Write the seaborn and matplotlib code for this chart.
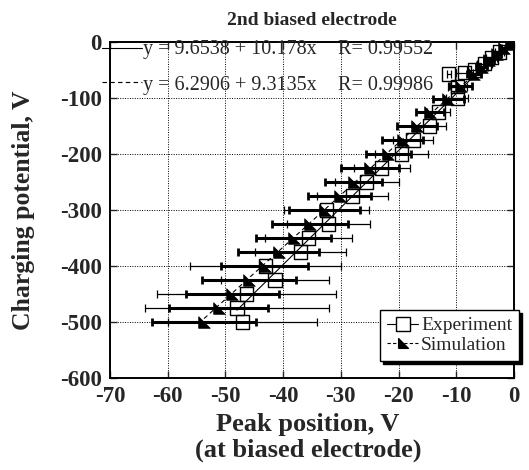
import numpy as np
import matplotlib
matplotlib.use("Agg")
import matplotlib.pyplot as plt
from matplotlib.lines import Line2D
import seaborn as sns

# experiment (open squares, thin error bars)
exp_peak = [-47.0, -48.0, -46.4, -41.4, -43.0, -37.0, -35.6, -32.2, -32.5, -28.0, -25.5, -22.9,
            -19.5, -17.5, -14.6, -13.1, -9.8, -9.8, -11.3, -8.6, -6.8, -5.1, -3.9, -2.5]
exp_charge = [-500, -475, -450, -425, -400, -375, -350, -325, -300, -275, -250, -225,
              -200, -175, -150, -125, -100, -80, -57, -55, -50, -39, -28, -18]
exp_err = [12.9, 15.9, 15.5, 9.3, 13.1, 7.9, 7.5, 7.2, 7.4, 6.1, 5.5, 4.9,
           4.6, 3.5, 2.9, 2.0, 1.9, 1.6, 0.3, 1.5, 1.3, 1.3, 1.0, 0.8]

# simulation (filled triangles, thick error bars)
sim_peak = [-53.7, -51.2, -48.8, -45.9, -43.2, -40.8, -38.2, -35.4, -32.8, -30.2, -27.8, -25.0,
            -21.8, -19.3, -16.8, -14.6, -11.4, -9.2, -7.0, -5.6, -4.3, -3.0, -1.8, -0.6]
sim_charge = [-500, -475, -450, -425, -400, -375, -350, -325, -300, -275, -250, -225,
              -200, -175, -150, -125, -101, -78, -58, -45, -33, -21, -11, -3]
sim_err = [9.0, 8.6, 8.0, 8.1, 7.5, 7.0, 6.5, 6.6, 6.1, 5.5, 5.0, 5.0,
           3.9, 3.5, 3.4, 2.4, 2.7, 2.0, 1.2, 1.0, 0.9, 0.7, 0.5, 0.3]

# linear fits shown on the chart
exp_fit = (9.6538, 10.178, 0.99552)
sim_fit = (6.2906, 9.3135, 0.99986)

sns.set_style("ticks")
plt.rcParams["font.family"] = ["Liberation Serif", "DejaVu Serif"]
plt.rcParams["axes.unicode_minus"] = False

tri = [(-1, -1), (1, -1), (-1, 1), (-1, -1)]

fig = plt.figure(figsize=(5.29, 4.70), dpi=100)
ax = fig.add_axes([110 / 529, 1 - 378 / 470, 404 / 529, 336 / 470])

ax.errorbar(exp_peak, exp_charge, xerr=exp_err, fmt="none", ecolor="black",
            elinewidth=0.9, capsize=3, capthick=0.9, zorder=3)
ax.errorbar(sim_peak, sim_charge, xerr=sim_err, fmt="none", ecolor="black",
            elinewidth=2.2, capsize=3, capthick=2, zorder=3)

xe = np.array([min(exp_peak), max(exp_peak)])
xs = np.array([min(sim_peak), max(sim_peak)])
sns.lineplot(x=xe, y=exp_fit[0] + exp_fit[1] * xe, color="black", lw=0.8, ax=ax, zorder=4)
sns.lineplot(x=xs, y=sim_fit[0] + sim_fit[1] * xs, color="black", lw=0.8,
             dashes=False, linestyle=(0, (4, 3)), ax=ax, zorder=4)

sns.scatterplot(x=sim_peak, y=sim_charge, marker=tri, s=70, color="black",
                edgecolor="black", linewidth=0.5, ax=ax, zorder=5)
sns.scatterplot(x=exp_peak, y=exp_charge, marker="s", s=90, facecolor="none",
                edgecolor="black", linewidth=1.0, ax=ax, zorder=6)

ax.set_xlim(-70, 0)
ax.set_ylim(-600, 0)
ax.set_xticks(np.arange(-70, 1, 10))
ax.set_yticks(np.arange(-600, 1, 100))
ax.grid(True, linestyle=(0, (1, 1.5)), color="black", linewidth=0.7)
ax.tick_params(direction="in", length=5, width=1, top=True, right=True,
               labelsize=16.5, pad=6)
for lab in ax.get_xticklabels() + ax.get_yticklabels():
    lab.set_fontweight("bold")
for s in ax.spines.values():
    s.set_linewidth(1.4)
    s.set_color("black")

ax.set_title("2nd biased electrode", fontsize=14, fontweight="bold", pad=12)
ax.set_xlabel("Peak position, V\n(at biased electrode)", fontsize=19,
              fontweight="bold", linespacing=1.15)
ax.xaxis.set_label_coords(0.49, -0.105)
ax.xaxis.label.set_va("top")
ax.set_ylabel("Charging potential, V", fontsize=18.5, fontweight="bold")
ax.yaxis.set_label_coords(-0.185, 0.5)

# fit equations with their line keys
ax.plot([-0.021, 0.079], [0.981, 0.981], color="black", lw=0.8,
        transform=ax.transAxes, clip_on=False)
ax.plot([-0.021, 0.079], [0.882, 0.882], color="black", lw=0.8,
        linestyle=(0, (4, 3)), transform=ax.transAxes, clip_on=False)
ax.text(0.082, 0.979, f"y = {exp_fit[0]} + {exp_fit[1]}x", fontsize=14.5,
        va="center", transform=ax.transAxes)
ax.text(0.564, 0.979, f"R= {exp_fit[2]}", fontsize=14.5, va="center", transform=ax.transAxes)
ax.text(0.082, 0.872, f"y = {sim_fit[0]} + {sim_fit[1]}x", fontsize=14.5,
        va="center", transform=ax.transAxes)
ax.text(0.564, 0.872, f"R= {sim_fit[2]}", fontsize=14.5, va="center", transform=ax.transAxes)

handles = [
    Line2D([], [], color="black", lw=0.8, marker="s", markersize=9.5,
           markerfacecolor="white", markeredgecolor="black"),
    Line2D([], [], color="black", lw=0.8, linestyle=(0, (3, 2)), marker=tri,
           markersize=7, markerfacecolor="black", markeredgecolor="black"),
]
leg = fig.legend(handles, ["Experiment", "Simulation"], loc="upper right",
                 bbox_to_anchor=(519 / 529, 1 - 310 / 470), fontsize=14,
                 handlelength=1.6, handletextpad=0.15, borderpad=0.35,
                 labelspacing=0.1, borderaxespad=0, fancybox=False,
                 framealpha=1, edgecolor="black",
                 shadow={"color": "black", "alpha": 1})
leg.get_frame().set_linewidth(1.0)

fig.savefig("out.png", dpi=100)
